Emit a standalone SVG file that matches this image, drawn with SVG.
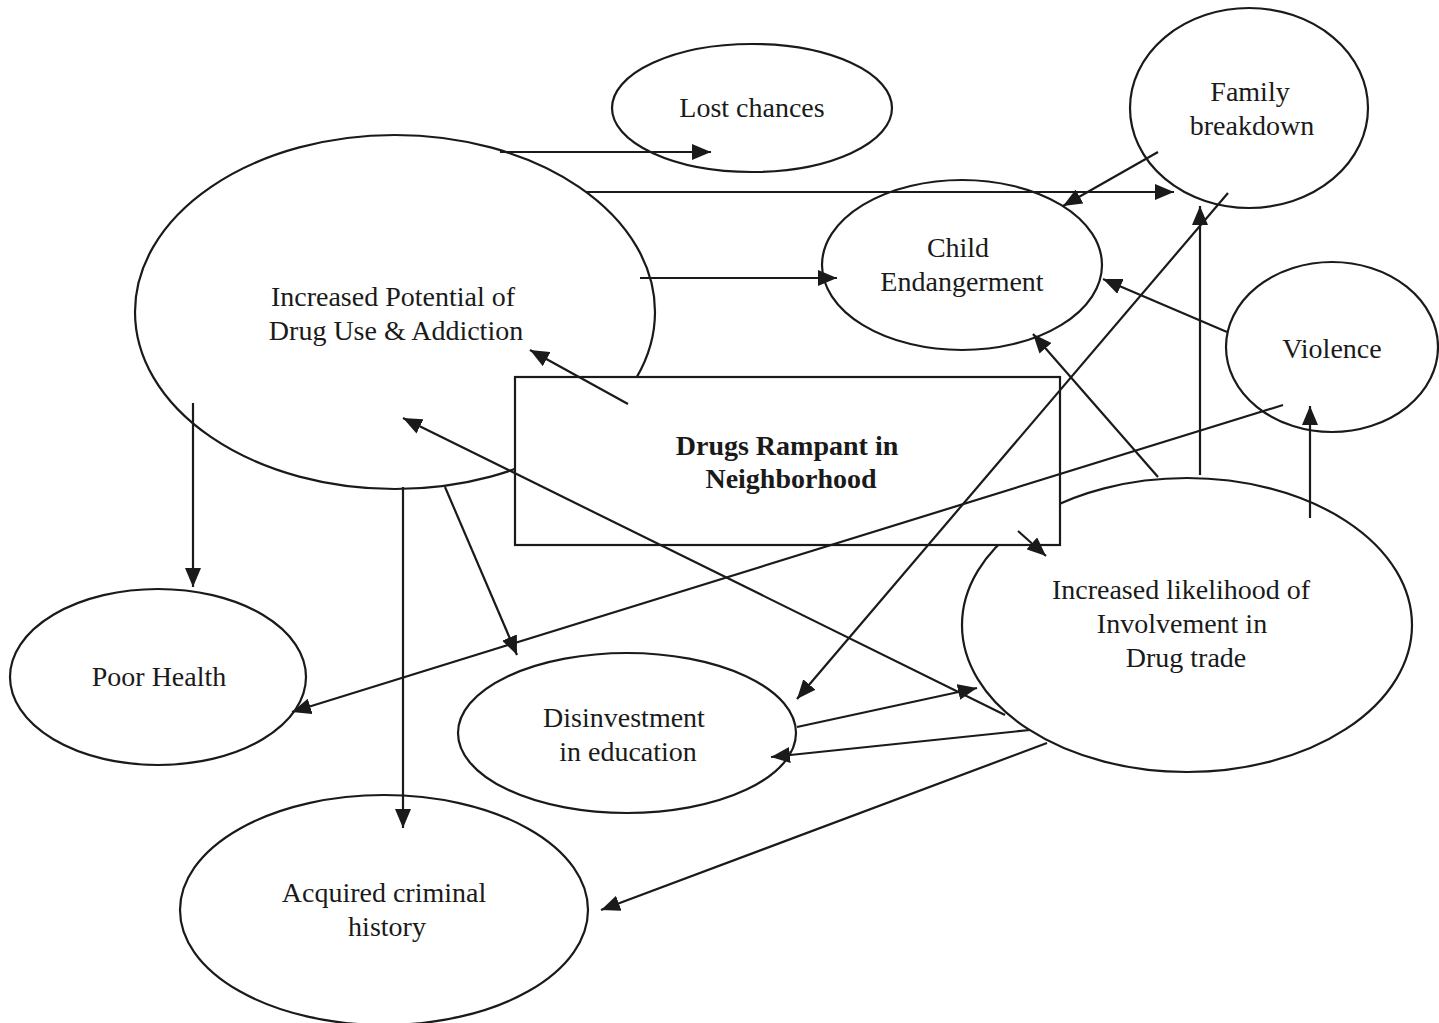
<svg xmlns="http://www.w3.org/2000/svg" width="1439" height="1023" viewBox="0 0 1439 1023">
<defs>
<style>
.n{fill:#fff;stroke:#1a1a1a;stroke-width:2.2}
.t{font-family:"Liberation Serif","Times New Roman",serif;font-size:28px;fill:#1a1a1a;text-anchor:middle}
.b{font-weight:bold}
.c line{stroke:#1a1a1a;stroke-width:2.2;marker-end:url(#ah)}
</style>
<marker id="ah" markerUnits="userSpaceOnUse" markerWidth="20" markerHeight="16" refX="19" refY="8" orient="auto">
<path d="M0,0 L19,8 L0,16 z" fill="#1a1a1a"/>
</marker>
</defs>
<rect width="1439" height="1023" fill="#fff"/>
<g id="lost-chances"><ellipse class="n" cx="752" cy="108" rx="140" ry="64"/><text class="t" x="752" y="117">Lost chances</text></g>
<g id="family-breakdown"><ellipse class="n" cx="1249" cy="108" rx="119" ry="100"/><text class="t" x="1250" y="101">Family</text><text class="t" x="1252" y="135">breakdown</text></g>
<g id="child-endangerment"><ellipse class="n" cx="962" cy="265" rx="140" ry="85"/><text class="t" x="958" y="257">Child</text><text class="t" x="962" y="291">Endangerment</text></g>
<g id="violence"><ellipse class="n" cx="1332" cy="347" rx="106" ry="85"/><text class="t" x="1332" y="358">Violence</text></g>
<g id="increased-potential"><ellipse class="n" cx="395" cy="312" rx="260" ry="177"/><text class="t" x="393" y="306">Increased Potential of</text><text class="t" x="396" y="340">Drug Use &amp; Addiction</text></g>
<g id="poor-health"><ellipse class="n" cx="158" cy="677" rx="148" ry="88"/><text class="t" x="159" y="686">Poor Health</text></g>
<g id="disinvestment"><ellipse class="n" cx="627" cy="733" rx="169" ry="80"/><text class="t" x="624" y="727">Disinvestment</text><text class="t" x="628" y="761">in education</text></g>
<g id="acquired-criminal"><ellipse class="n" cx="384" cy="910" rx="204" ry="115"/><text class="t" x="384" y="902">Acquired criminal</text><text class="t" x="387" y="936">history</text></g>
<g id="drug-trade"><ellipse class="n" cx="1187" cy="625" rx="225" ry="147"/><text class="t" x="1181" y="599">Increased likelihood of</text><text class="t" x="1182" y="633">Involvement in</text><text class="t" x="1186" y="667">Drug trade</text></g>
<g id="drugs-rampant"><rect class="n" x="515" y="377" width="545" height="168"/><text class="t b" x="787" y="455">Drugs Rampant in</text><text class="t b" x="791" y="488">Neighborhood</text></g>
<g id="connectors" class="c">
<line x1="500" y1="152" x2="711" y2="152"/>
<line x1="586" y1="192" x2="1174" y2="192"/>
<line x1="1158" y1="152" x2="1063" y2="206"/>
<line x1="640" y1="278" x2="837" y2="278"/>
<line x1="1227" y1="332" x2="1103" y2="279"/>
<line x1="628" y1="404" x2="530" y2="350"/>
<line x1="1158" y1="477" x2="1033" y2="334"/>
<line x1="1200" y1="475" x2="1200" y2="206"/>
<line x1="1310" y1="518" x2="1310" y2="406"/>
<line x1="1228" y1="193" x2="797" y2="699"/>
<line x1="1283" y1="405" x2="292" y2="712"/>
<line x1="1005" y1="715" x2="403" y2="418"/>
<line x1="1018" y1="531" x2="1046" y2="556"/>
<line x1="445" y1="487" x2="517" y2="655"/>
<line x1="193" y1="403" x2="193" y2="587"/>
<line x1="403" y1="487" x2="403" y2="828"/>
<line x1="797" y1="727" x2="977" y2="688"/>
<line x1="1030" y1="730" x2="771" y2="757"/>
<line x1="1047" y1="743" x2="601" y2="910"/>
</g>
</svg>
